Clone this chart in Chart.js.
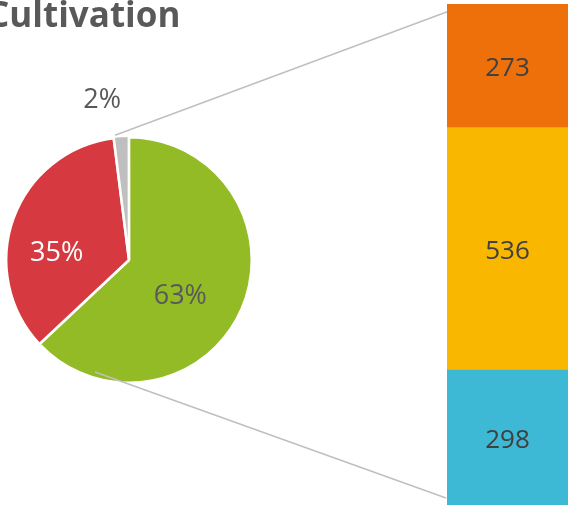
<!DOCTYPE html>
<html lang="en">
<head>
    <meta charset="UTF-8">
    <script src="https://cdn.jsdelivr.net/npm/chart.js"></script>
    <title>Cultivation</title>
    <style>
        body { margin: 0; background: #fff; width: 576px; height: 505px; overflow: hidden; position: relative; }
        #titulo { position: absolute; left: -13px; top: -10px; font-family: "Open Sans", sans-serif; font-weight: bold; font-size: 35px; color: #595959; white-space: nowrap; }
        #pizza { position: absolute; left: 0; top: 0; }
        #barra { position: absolute; left: 447px; top: 0; }
    </style>
</head>
<body>
    <canvas id="pizza" width="576" height="505"></canvas>
    <canvas id="barra" width="121" height="505"></canvas>
    <div id="titulo">Cultivation</div>
<script>
    // pie (first plot)
    var fatias = ["Main", "Second", "Other"]
    var fatiasValores = [63, 35, 2]
    var fatiasCores = ["#92bb25", "#d63a40", "#bfbfbf"]
    var fatiasTextoCor = ["#595959", "#ffffff", "#595959"]

    // bar (second plot), bottom to top
    var barraItens = ["C", "B", "A"]
    var barraValores = [298, 536, 273]
    var barraCores = ["#3db9d5", "#f9b700", "#ee700b"]

    var fonte = '"Open Sans", sans-serif'

    // percent labels on the slices (placed from the arc's own angle)
    var rotulosPizza = {
        id: 'rotulosPizza',
        afterDatasetsDraw(chart) {
            var ctx = chart.ctx
            var meta = chart.getDatasetMeta(0)
            var ajustes = [[0.5, -5, 12], [0.6, -3, 18], [1.28, -17, -3]]
            ctx.save()
            ctx.font = '27px ' + fonte
            ctx.textAlign = 'center'
            ctx.textBaseline = 'middle'
            meta.data.forEach(function (arco, i) {
                var p = arco.getProps(['x', 'y', 'startAngle', 'endAngle', 'outerRadius'], true)
                var meio = (p.startAngle + p.endAngle) / 2
                var r = p.outerRadius * ajustes[i][0]
                var x = p.x + Math.cos(meio) * r + ajustes[i][1]
                var y = p.y + Math.sin(meio) * r + ajustes[i][2]
                ctx.fillStyle = fatiasTextoCor[i]
                ctx.fillText(fatiasValores[i] + '%', x, y)
            })
            ctx.restore()
        }
    }

    // connector lines from the small slice to the bar
    var linhas = {
        id: 'linhas',
        afterDatasetsDraw(chart) {
            var ctx = chart.ctx
            var meta = chart.getDatasetMeta(0)
            var cinza = meta.data[2].getProps(['x', 'y', 'startAngle', 'endAngle', 'outerRadius'], true)
            var a2 = cinza.endAngle
            ctx.save()
            ctx.strokeStyle = '#bfbfbf'
            ctx.lineWidth = 1.5
            ctx.beginPath()
            ctx.moveTo(cinza.x + Math.cos(a2) * cinza.outerRadius - 14, cinza.y + Math.sin(a2) * cinza.outerRadius - 2)
            ctx.lineTo(452, 10)
            ctx.moveTo(cinza.x - 34, cinza.y + 112)
            ctx.lineTo(446, 498)
            ctx.stroke()
            ctx.restore()
        }
    }

    new Chart(pizza, {
        type: 'pie',
        data: {
            labels: fatias,
            datasets: [{
                data: fatiasValores,
                backgroundColor: fatiasCores,
                borderColor: '#ffffff',
                borderWidth: 2.5,
                hoverOffset: 0,
                offset: [0, 0, 3]
            }]
        },
        options: {
            responsive: false,
            animation: false,
            layout: { padding: { left: 3.5, right: 321.5, top: 134.5, bottom: 119.5 } },
            plugins: {
                legend: { display: false },
                tooltip: { enabled: false }
            }
        },
        plugins: [linhas, rotulosPizza]
    })

    var rotulosBarra = {
        id: 'rotulosBarra',
        afterDatasetsDraw(chart) {
            var ctx = chart.ctx
            ctx.save()
            ctx.font = '26px ' + fonte
            ctx.textAlign = 'center'
            ctx.textBaseline = 'middle'
            ctx.fillStyle = '#404040'
            chart.data.datasets.forEach(function (ds, i) {
                var barra = chart.getDatasetMeta(i).data[0]
                var p = barra.getProps(['x', 'y', 'base'], true)
                ctx.fillText(ds.data[0], p.x, (p.y + p.base) / 2 + 3)
            })
            ctx.restore()
        }
    }

    var conjuntos = []
    for (var i = 0; i < barraValores.length; i++) {
        conjuntos.push({
            label: barraItens[i],
            data: [barraValores[i]],
            backgroundColor: barraCores[i],
            borderWidth: 0,
            barPercentage: 1,
            categoryPercentage: 1
        })
    }

    new Chart(barra, {
        type: 'bar',
        data: { labels: ['Other'], datasets: conjuntos },
        options: {
            responsive: false,
            animation: false,
            layout: { padding: { top: 4, bottom: 0, left: 0, right: 0 } },
            scales: {
                x: { stacked: true, display: false },
                y: { stacked: true, display: false, min: 0, max: 1107 }
            },
            plugins: {
                legend: { display: false },
                tooltip: { enabled: false }
            }
        },
        plugins: [rotulosBarra]
    })
</script>
</body>
</html>
